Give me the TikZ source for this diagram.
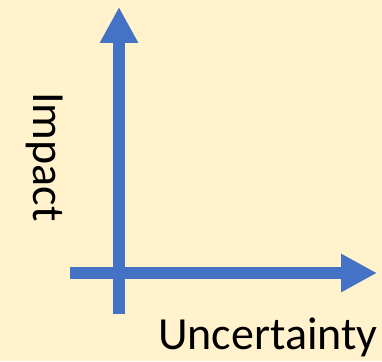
\documentclass[tikz,border=0pt]{standalone}
\usepackage{fontspec}
\setmainfont{Carlito}
\usepackage{tikz}
\usetikzlibrary{arrows.meta}
\definecolor{paper}{HTML}{FFF2CC}
\definecolor{axisblue}{HTML}{4472C4}

\begin{document}
\begin{tikzpicture}[x=1pt,y=-1pt,line cap=butt]
  \fill[paper] (0,0) rectangle (382,361);
  \useasboundingbox (0,0) rectangle (382,361);
  \tikzset{axisline/.style={axisblue,line width=12pt,-{Triangle[length=36pt,width=36pt]}}}
  \coordinate (O) at (119,273);
  \coordinate (Vbot) at (119,314);
  \coordinate (Vtop) at (119,7);
  \coordinate (Hleft) at (70,273);
  \coordinate (Hright) at (377,273);
  \draw[axisline] (Vbot) -- (Vtop);
  \draw[axisline] (Hleft) -- (Hright);
  \node[rotate=-90,inner sep=0pt,font=\fontsize{46}{50}\selectfont] (impact) at (45,157) {Impact};
  \node[anchor=base,inner sep=0pt,font=\fontsize{46}{50}\selectfont] (uncert) at (268,349) {Uncertainty};
\end{tikzpicture}
\end{document}
